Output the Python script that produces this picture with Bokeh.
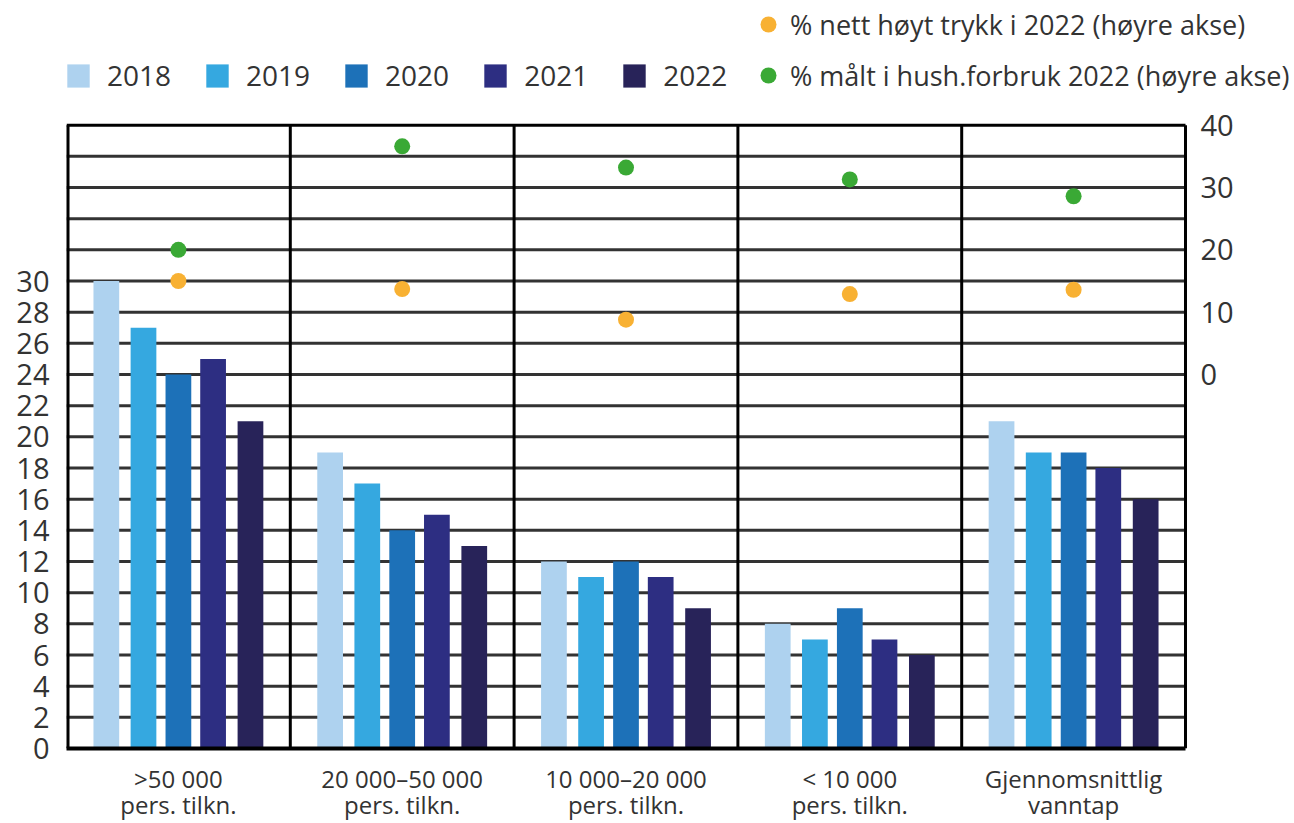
from bokeh.plotting import figure
from bokeh.models import (Range1d, LinearAxis, FixedTicker, Legend, LegendItem,
                          ColumnDataSource)
from bokeh.transform import dodge
from bokeh.embed import file_html
from bokeh.resources import INLINE

# ---------------- data ----------------
categories = [">50 000\npers. tilkn.", "20 000–50 000\npers. tilkn.",
              "10 000–20 000\npers. tilkn.", "< 10 000\npers. tilkn.",
              "Gjennomsnittlig\nvanntap"]
years = ["2018", "2019", "2020", "2021", "2022"]
v2018 = [30, 19, 12, 8, 21]
v2019 = [27, 17, 11, 7, 19]
v2020 = [24, 14, 12, 9, 19]
v2021 = [25, 15, 11, 7, 18]
v2022 = [21, 13, 9, 6, 16]
nett_hoyt_trykk = [15, 13.7, 8.8, 12.9, 13.6]      # right axis
malt_hush_forbruk = [20, 36.6, 33.2, 31.3, 28.6]   # right axis
left_ticks = list(range(0, 31, 2))
right_ticks = [0, 10, 20, 30, 40]
label_nett = "% nett høyt trykk i 2022 (høyre akse)"
label_malt = "% målt i hush.forbruk 2022 (høyre akse)"

# ---------------- styling / layout ----------------
bar_colors = ["#AED2EF", "#35A8E0", "#1D71B8", "#2D2E82", "#282359"]
offsets = [-0.322, -0.156, 0.0, 0.155, 0.322]
FONT = "Open Sans"
TXT = "#333333"
W, H = 1294, 823
FRAME_L, BOX_R, FRAME_B = 66, 1185, 752
N = len(categories)
X_MAX = N * (W - FRAME_L) / (BOX_R - FRAME_L)   # frame runs to the canvas edge
GRID_TOP = 40
LEFT_MAX = 48

xpos = [i + 0.5 for i in range(N)]
src = ColumnDataSource(dict(x=xpos, y2018=v2018, y2019=v2019, y2020=v2020,
                            y2021=v2021, y2022=v2022, nett=nett_hoyt_trykk,
                            malt=malt_hush_forbruk))

p = figure(width=W, height=H, x_range=Range1d(0, X_MAX), y_range=Range1d(0, LEFT_MAX),
           output_backend="svg", toolbar_location=None,
           min_border_left=FRAME_L, min_border_right=0, min_border_top=0,
           min_border_bottom=H - FRAME_B)
# right axis: 0 at left 24, 40 at left 40
p.extra_y_ranges = {"right": Range1d(-60, 60)}

p.outline_line_color = None
p.xgrid.grid_line_color = None
p.ygrid.grid_line_color = None

# axes
p.yaxis.ticker = FixedTicker(ticks=left_ticks)
p.yaxis.axis_line_color = None
p.yaxis.major_tick_line_color = None
p.yaxis.minor_tick_line_color = None
p.yaxis.major_tick_out = 0
p.yaxis.major_label_standoff = 17
p.yaxis.major_label_text_font = FONT
p.yaxis.major_label_text_font_size = "29px"
p.yaxis.major_label_text_color = TXT

p.xaxis.ticker = FixedTicker(ticks=xpos)
p.xaxis.major_label_overrides = {x: c for x, c in zip(xpos, categories)}
p.xaxis.bounds = (0, N)
p.xaxis.axis_line_color = "black"
p.xaxis.axis_line_width = 4
p.xaxis.major_tick_line_color = None
p.xaxis.minor_tick_line_color = None
p.xaxis.major_tick_out = 0
p.xaxis.major_label_standoff = 13
p.xaxis.major_label_text_font = FONT
p.xaxis.major_label_text_font_size = "24px"
p.xaxis.major_label_text_color = TXT
p.xaxis.major_label_text_line_height = 0.8

raxis = LinearAxis(y_range_name="right", ticker=FixedTicker(ticks=right_ticks),
                   fixed_location=N)
raxis.axis_line_color = None
raxis.major_tick_line_color = None
raxis.minor_tick_line_color = None
raxis.major_tick_out = 0
raxis.major_label_standoff = 15
raxis.major_label_text_font = FONT
raxis.major_label_text_font_size = "29px"
raxis.major_label_text_color = TXT
p.add_layout(raxis, "right")

# horizontal rules of the box (every 2 units up to 38) and its top edge
hy = list(range(2, GRID_TOP, 2))
p.segment(x0=[0] * len(hy), y0=hy, x1=[N] * len(hy), y1=hy,
          line_color="#333333", line_width=3)
p.segment(x0=[0], y0=[GRID_TOP], x1=[N], y1=[GRID_TOP], line_color="black", line_width=3)
# vertical lines: outer borders and separators between categories
vx = list(range(0, N + 1))
p.segment(x0=vx, y0=[0] * (N + 1), x1=vx, y1=[GRID_TOP] * (N + 1),
          line_color="black", line_width=[6] + [3] * N)

# bars
bar_renderers = []
for yr, col, off in zip(years, bar_colors, offsets):
    r = p.vbar(x=dodge("x", off), top="y" + yr, width=0.115,
               source=src, fill_color=col, line_color=None)
    bar_renderers.append(r)

# dots
r_nett = p.scatter(x="x", y="nett", source=src, y_range_name="right", size=16,
                   fill_color="#F8B133", line_color=None)
r_malt = p.scatter(x="x", y="malt", source=src, y_range_name="right", size=16,
                   fill_color="#3AA935", line_color=None)

leg_bars = Legend(items=[LegendItem(label=yr, renderers=[r]) for yr, r in zip(years, bar_renderers)],
                  orientation="horizontal", location=(-2, 654), glyph_width=28, glyph_height=29,
                  label_standoff=15, spacing=32, padding=0, margin=0,
                  border_line_color=None, background_fill_alpha=0,
                  label_text_font=FONT, label_text_font_size="28px", label_text_color=TXT)
leg_dots = Legend(items=[LegendItem(label=label_nett, renderers=[r_nett]),
                         LegendItem(label=label_malt, renderers=[r_malt])],
                  orientation="vertical", location=(682, 653), glyph_width=40, glyph_height=40,
                  label_standoff=2, spacing=11, padding=0, margin=0,
                  border_line_color=None, background_fill_alpha=0,
                  label_text_font=FONT, label_text_font_size="27px", label_text_color=TXT)
p.add_layout(leg_bars, "center")
p.add_layout(leg_dots, "center")

open("out.html", "w").write(file_html(p, INLINE))
